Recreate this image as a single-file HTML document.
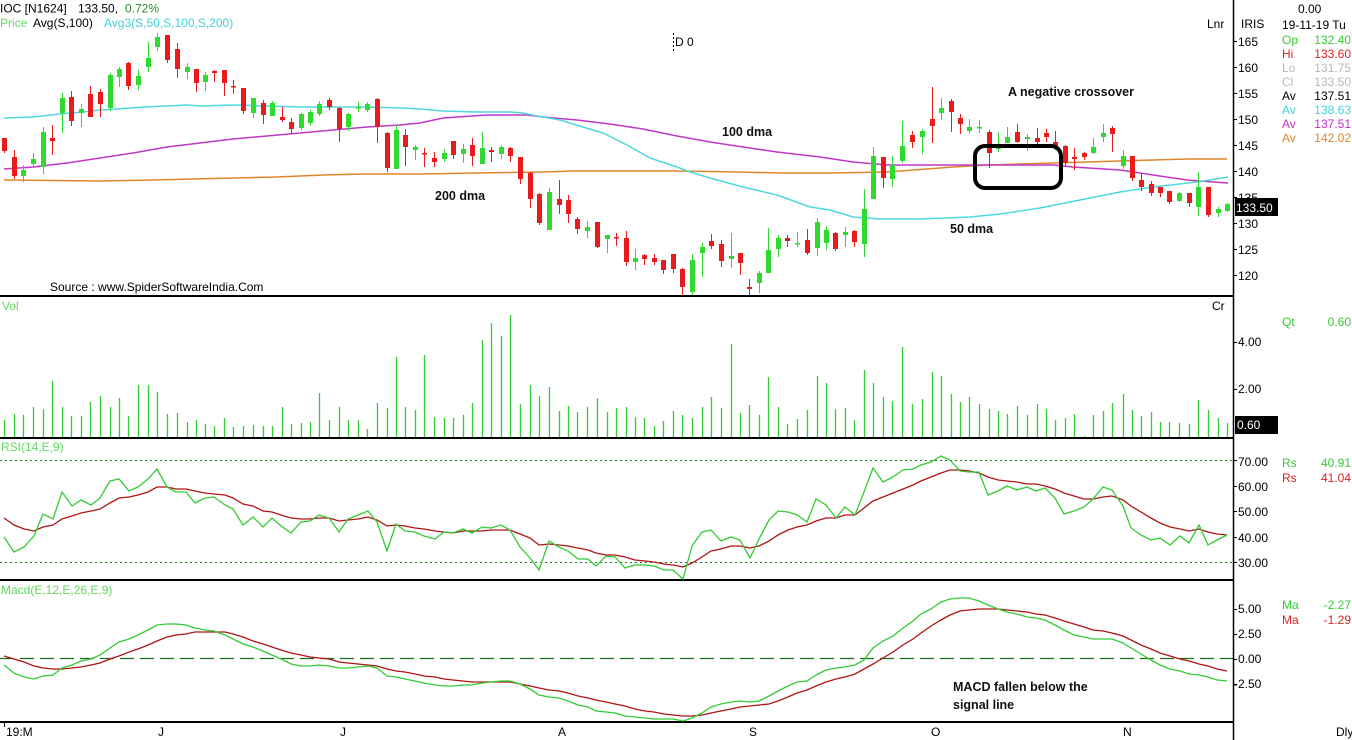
<!DOCTYPE html>
<html><head><meta charset="utf-8"><style>
html,body{margin:0;padding:0;background:#fff;}
svg{display:block;font-family:"Liberation Sans",sans-serif;font-size:12px;}
.b{font-weight:bold;font-size:12.5px;fill:#111;}
</style></head><body>
<svg width="1352" height="740" viewBox="0 0 1352 740" xmlns="http://www.w3.org/2000/svg">
<rect width="1352" height="740" fill="#fff"/>

<!-- header -->
<text x="0" y="12.5" fill="#000">IOC [N1624]</text>
<text x="78" y="12.5" fill="#000">133.50,</text>
<text x="125" y="12.5" fill="#2a8a2a">0.72%</text>
<text x="0" y="27" fill="#5fdc5f">Price</text>
<text x="33" y="27" fill="#000">Avg(S,100)</text>
<text x="104" y="27" fill="#44d0d8">Avg3(S,50,S,100,S,200)</text>

<!-- D 0 marker -->
<line x1="673.5" y1="33" x2="673.5" y2="52" stroke="#000" stroke-dasharray="2,2"/>
<text x="675" y="46" fill="#000">D 0</text>
<text x="1207" y="28" fill="#000">Lnr</text>

<!-- moving averages -->
<polyline fill="none" stroke="#e0862a" stroke-width="1.5" points="4,180 100,181 153,180 233,178 277,177 323,175 363,174 420,174 477,173 543,172 573,171 677,171 737,172 783,173 830,173 887,172 953,167 987,165 1053,163 1087,162 1153,160 1187,159 1227,159"/>
<polyline fill="none" stroke="#c038c8" stroke-width="1.5" points="4,169 33,167 67,163 100,158 133,153 167,147 200,143 233,139 267,136 300,133 333,130 367,127 400,125 420,123 443,118 487,115 527,115 543,117 577,120 610,124 643,129 677,136 710,142 743,147 777,152 820,157 853,162 887,165 920,165 953,165 987,165 1053,165 1073,167 1120,170 1153,175 1187,180 1213,182 1228,183"/>
<polyline fill="none" stroke="#4fd8e0" stroke-width="1.5" points="4,118 33,117 60,114 83,112 100,110 117,109 143,107 167,106 187,105 200,106 233,105 267,106 300,107 333,107 367,107 400,108 420,109 443,111 477,112 510,112 523,113 537,116 560,120 583,127 603,133 627,145 650,158 677,167 690,172 710,178 743,187 777,195 810,207 830,210 853,217 880,219 920,219 970,217 1000,214 1040,208 1080,200 1120,192 1153,187 1197,182 1228,177"/>

<!-- red candles -->
<g fill="#e81c1c">
<path stroke="#e81c1c" stroke-width="1" d="M4.5 138V153M14.5 150V179M52.5 125V155M71.5 91V126M90.5 86V117M100.5 89V117M128.5 62V90M167.5 35V63M177.5 43V78M196.5 69V92M214.5 70V82M224.5 70V96M233.5 80V94M243.5 88V114M263.5 100V124M282.5 107V122M291.5 118V134M329.5 98V110M339.5 107V142M377.5 98V143M387.5 132V172M405.5 129V166M424.5 148V167M434.5 152V167M453.5 141V159M472.5 138V166M491.5 147V162M510.5 147V162M520.5 157V184M530.5 172V208M539.5 193V225M559.5 180V214M568.5 195V223M577.5 217V234M597.5 222V248M616.5 233V246M626.5 231V266M644.5 254V265M654.5 254V265M663.5 260V274M673.5 254V273M682.5 268V295M711.5 234V249M721.5 240V267M740.5 253V275M749.5 279V295M787.5 235V247M807.5 229V255M835.5 232V251M854.5 230V247M883.5 157V188M912.5 131V148M932.5 87V143M951.5 99V132M960.5 114V134M989.5 130V168M1017.5 124V143M1037.5 128V144M1046.5 129V142M1055.5 131V150M1065.5 145V166M1074.5 148V170M1084.5 152V160M1112.5 126V152M1132.5 156V181M1141.5 174V191M1151.5 181V196M1160.5 187V197M1169.5 191V204M1189.5 193V207M1208.5 187V217"/>
<rect x="2" y="138" width="5" height="13"/><rect x="12" y="157" width="5" height="19"/><rect x="50" y="138" width="5" height="3"/><rect x="69" y="97" width="5" height="24"/><rect x="88" y="94" width="5" height="23"/><rect x="98" y="92" width="5" height="12"/><rect x="126" y="63" width="5" height="23"/><rect x="165" y="35" width="5" height="25"/><rect x="175" y="49" width="5" height="20"/><rect x="194" y="69" width="5" height="14"/><rect x="212" y="71" width="5" height="2"/><rect x="222" y="70" width="5" height="13"/><rect x="231" y="86" width="5" height="1.5"/><rect x="241" y="88" width="5" height="23"/><rect x="261" y="103" width="5" height="12"/><rect x="280" y="117" width="5" height="3"/><rect x="289" y="122" width="5" height="7"/><rect x="327" y="100" width="5" height="7"/><rect x="337" y="108" width="5" height="21"/><rect x="375" y="99" width="5" height="28"/><rect x="385" y="133" width="5" height="35"/><rect x="403" y="135" width="5" height="12"/><rect x="422" y="153" width="5" height="1.5"/><rect x="432" y="158" width="5" height="4"/><rect x="451" y="141" width="5" height="14"/><rect x="470" y="145" width="5" height="11"/><rect x="489" y="150" width="5" height="2"/><rect x="508" y="148" width="5" height="8"/><rect x="518" y="157" width="5" height="22"/><rect x="528" y="173" width="5" height="26"/><rect x="537" y="194" width="5" height="29"/><rect x="557" y="199" width="5" height="6"/><rect x="566" y="200" width="5" height="14"/><rect x="575" y="219" width="5" height="10"/><rect x="595" y="222" width="5" height="25"/><rect x="614" y="237" width="5" height="1.5"/><rect x="624" y="238" width="5" height="24"/><rect x="642" y="255" width="5" height="4"/><rect x="652" y="258" width="5" height="4"/><rect x="661" y="260" width="5" height="10"/><rect x="671" y="254" width="5" height="15"/><rect x="680" y="269" width="5" height="18"/><rect x="709" y="241" width="5" height="5"/><rect x="719" y="244" width="5" height="17"/><rect x="738" y="253" width="5" height="10"/><rect x="747" y="287" width="5" height="2"/><rect x="785" y="238" width="5" height="3"/><rect x="805" y="240" width="5" height="13"/><rect x="833" y="233" width="5" height="16"/><rect x="852" y="231" width="5" height="11"/><rect x="881" y="157" width="5" height="21"/><rect x="910" y="135" width="5" height="7"/><rect x="930" y="119" width="5" height="7"/><rect x="949" y="101" width="5" height="11"/><rect x="958" y="118" width="5" height="6"/><rect x="987" y="132" width="5" height="21"/><rect x="1015" y="132" width="5" height="10"/><rect x="1035" y="138" width="5" height="4"/><rect x="1044" y="133" width="5" height="4"/><rect x="1053" y="142" width="5" height="5"/><rect x="1063" y="146" width="5" height="17"/><rect x="1072" y="157" width="5" height="2"/><rect x="1082" y="153" width="5" height="4"/><rect x="1110" y="128" width="5" height="6"/><rect x="1130" y="156" width="5" height="22"/><rect x="1139" y="180" width="5" height="7"/><rect x="1149" y="184" width="5" height="9"/><rect x="1158" y="187" width="5" height="6"/><rect x="1167" y="191" width="5" height="11"/><rect x="1187" y="193" width="5" height="10"/><rect x="1206" y="187" width="5" height="28"/>
</g>

<!-- green candles -->
<g fill="#2edb2e">
<path stroke="#2edb2e" stroke-width="1" d="M23.5 165V182M33.5 153V168M43.5 127V174M62.5 93V133M81.5 104V127M110.5 73V111M119.5 67V87M138.5 70V90M148.5 42V72M157.5 33V51M187.5 63V79M205.5 72V91M253.5 98V118M272.5 101V116M301.5 113V130M310.5 110V125M319.5 101V116M348.5 113V131M358.5 102V112M367.5 102V112M396.5 125V169M415.5 145V160M444.5 149V162M463.5 144V163M482.5 132V164M501.5 145V159M549.5 188V230M587.5 221V238M607.5 235V253M635.5 249V270M692.5 254V295M702.5 243V277M731.5 233V268M759.5 271V293M768.5 228V273M778.5 235V257M797.5 232V247M817.5 218V256M826.5 226V250M845.5 227V247M864.5 189V257M873.5 147V199M892.5 156V187M902.5 121V163M922.5 129V154M941.5 98V120M969.5 119V133M979.5 120V133M998.5 132V152M1007.5 127V143M1027.5 134V151M1093.5 138V154M1103.5 124V142M1123.5 150V169M1179.5 192V202M1198.5 172V216M1218.5 207V217M1227.5 203V212"/>
<rect x="21" y="170" width="5" height="6"/><rect x="31" y="159" width="5" height="5"/><rect x="41" y="132" width="5" height="35"/><rect x="60" y="98" width="5" height="15"/><rect x="79" y="109" width="5" height="4"/><rect x="108" y="75" width="5" height="33"/><rect x="117" y="69" width="5" height="8"/><rect x="136" y="76" width="5" height="9"/><rect x="146" y="58" width="5" height="9"/><rect x="155" y="37" width="5" height="10"/><rect x="185" y="67" width="5" height="5"/><rect x="203" y="75" width="5" height="7"/><rect x="251" y="98" width="5" height="15"/><rect x="270" y="103" width="5" height="13"/><rect x="299" y="114" width="5" height="14"/><rect x="308" y="112" width="5" height="11"/><rect x="317" y="104" width="5" height="10"/><rect x="346" y="114" width="5" height="13"/><rect x="356" y="107" width="5" height="1.5"/><rect x="365" y="104" width="5" height="6"/><rect x="394" y="130" width="5" height="39"/><rect x="413" y="147" width="5" height="3"/><rect x="442" y="153" width="5" height="6"/><rect x="461" y="149" width="5" height="5"/><rect x="480" y="148" width="5" height="16"/><rect x="499" y="147" width="5" height="7"/><rect x="547" y="192" width="5" height="38"/><rect x="585" y="227" width="5" height="4"/><rect x="605" y="235" width="5" height="4"/><rect x="633" y="258" width="5" height="4"/><rect x="690" y="260" width="5" height="32"/><rect x="700" y="247" width="5" height="6"/><rect x="729" y="256" width="5" height="3"/><rect x="757" y="273" width="5" height="10"/><rect x="766" y="250" width="5" height="23"/><rect x="776" y="238" width="5" height="11"/><rect x="795" y="243" width="5" height="1.5"/><rect x="815" y="222" width="5" height="26"/><rect x="824" y="230" width="5" height="13"/><rect x="843" y="232" width="5" height="3"/><rect x="862" y="209" width="5" height="35"/><rect x="871" y="156" width="5" height="43"/><rect x="890" y="166" width="5" height="13"/><rect x="900" y="146" width="5" height="15"/><rect x="920" y="131" width="5" height="6"/><rect x="939" y="108" width="5" height="5"/><rect x="967" y="127" width="5" height="4"/><rect x="977" y="127" width="5" height="1.5"/><rect x="996" y="144" width="5" height="5"/><rect x="1005" y="137" width="5" height="6"/><rect x="1025" y="137" width="5" height="2"/><rect x="1091" y="147" width="5" height="6"/><rect x="1101" y="133" width="5" height="4"/><rect x="1121" y="156" width="5" height="10"/><rect x="1177" y="193" width="5" height="8"/><rect x="1196" y="187" width="5" height="20"/><rect x="1216" y="209" width="5" height="4"/><rect x="1225" y="204" width="5" height="7"/>
</g>

<!-- annotations -->
<rect x="975" y="146" width="86" height="42" rx="10" ry="10" fill="none" stroke="#000" stroke-width="4"/>
<text class="b" x="1008" y="96">A negative crossover</text>
<text class="b" x="722" y="136">100 dma</text>
<text class="b" x="435" y="200">200 dma</text>
<text class="b" x="950" y="233">50 dma</text>
<text x="50" y="291" fill="#000">Source : www.SpiderSoftwareIndia.Com</text>

<!-- panel separators -->
<g stroke="#000" stroke-width="2">
<line x1="0" y1="296" x2="1233" y2="296"/>
<line x1="0" y1="438" x2="1233" y2="438"/>
<line x1="0" y1="580" x2="1233" y2="580"/>
<line x1="0" y1="722" x2="1233" y2="722"/>
</g>
<line x1="1233.5" y1="0" x2="1233.5" y2="740" stroke="#000" stroke-width="1.5"/>

<!-- volume -->
<text x="2" y="310" fill="#5fdc5f">Vol</text>
<text x="1212" y="310" fill="#000">Cr</text>
<path stroke="#33cc33" stroke-width="1.3" fill="none" d="M4.5 437V420M14.5 437V414M23.5 437V415M33.5 437V407M43.5 437V409M52.5 437V381M62.5 437V407M71.5 437V416M81.5 437V416M90.5 437V402M100.5 437V396M110.5 437V407M119.5 437V398M128.5 437V416M138.5 437V385M148.5 437V385M157.5 437V392M167.5 437V414M177.5 437V413M187.5 437V422M196.5 437V420M205.5 437V424M214.5 437V426M224.5 437V418M233.5 437V427M243.5 437V426M253.5 437V425M263.5 437V426M272.5 437V426M282.5 437V407M291.5 437V424M301.5 437V423M310.5 437V422M319.5 437V393M329.5 437V420M339.5 437V407M348.5 437V420M358.5 437V420M367.5 437V429M377.5 437V403M387.5 437V408M396.5 437V357M405.5 437V407M415.5 437V410M424.5 437V355M434.5 437V417M444.5 437V418M453.5 437V418M463.5 437V415M472.5 437V403M482.5 437V340M491.5 437V323M501.5 437V336M510.5 437V315M520.5 437V404M530.5 437V385M539.5 437V396M549.5 437V387M559.5 437V411M568.5 437V406M577.5 437V412M587.5 437V407M597.5 437V398M607.5 437V412M616.5 437V408M626.5 437V407M635.5 437V417M644.5 437V418M654.5 437V426M663.5 437V421M673.5 437V411M682.5 437V415M692.5 437V418M702.5 437V407M711.5 437V397M721.5 437V408M731.5 437V344M740.5 437V413M749.5 437V405M759.5 437V415M768.5 437V377M778.5 437V407M787.5 437V424M797.5 437V419M807.5 437V410M817.5 437V376M826.5 437V383M835.5 437V409M845.5 437V408M854.5 437V420M864.5 437V370M873.5 437V383M883.5 437V397M892.5 437V401M902.5 437V347M912.5 437V404M922.5 437V399M932.5 437V372M941.5 437V376M951.5 437V394M960.5 437V402M969.5 437V397M979.5 437V404M989.5 437V409M998.5 437V411M1007.5 437V414M1017.5 437V406M1027.5 437V415M1037.5 437V404M1046.5 437V409M1055.5 437V420M1065.5 437V418M1074.5 437V414M1084.5 437V436M1093.5 437V415M1103.5 437V411M1112.5 437V403M1123.5 437V394M1132.5 437V410M1141.5 437V416M1151.5 437V412M1160.5 437V422M1169.5 437V422M1179.5 437V423M1189.5 437V424M1198.5 437V400M1208.5 437V410M1218.5 437V418M1227.5 437V423"/>

<!-- RSI -->
<text x="1" y="451" fill="#5fdc5f">RSI(14,E,9)</text>
<g stroke="#1f7a1f" stroke-width="1" stroke-dasharray="2,3">
<line x1="0" y1="460.5" x2="1233" y2="460.5"/>
<line x1="0" y1="562.5" x2="1233" y2="562.5"/>
</g>
<polyline fill="none" stroke="#b01414" stroke-width="1.3" points="4,518 14,525 24,529 34,531 43,527 53,525 62,519 72,516 81,513 91,511 100,509 110,503 119,498 129,497 138,495 148,492 157,487 167,487 176,489 186,489 195,491 205,493 214,494 225,495 233,498 243,504 253,506 263,511 272,512 281,515 291,518 301,519 310,519 319,518 329,518 339,521 348,520 358,519 368,517 377,520 387,526 396,525 405,526 415,528 424,529 435,531 444,532 453,533 463,531 472,531 482,531 491,530 501,530 510,530 520,534 530,538 539,545 549,544 559,545 568,546 578,548 588,550 596,553 606,555 615,555 625,557 635,560 645,561 654,562 664,564 673,565 683,567 692,563 702,557 711,551 721,549 731,546 740,546 750,548 759,546 769,541 778,535 788,530 797,527 807,525 816,521 826,518 836,518 845,515 855,515 864,508 873,501 883,497 893,493 903,489 913,485 921,481 931,477 941,473 950,470 960,470 969,471 979,473 988,477 998,480 1007,481 1017,482 1027,484 1036,484 1045,486 1055,489 1064,493 1074,496 1084,499 1093,499 1103,497 1112,496 1123,500 1131,506 1141,512 1151,518 1160,523 1170,527 1180,529 1189,531 1199,529 1208,532 1217,534 1227,535"/>
<polyline fill="none" stroke="#33cc33" stroke-width="1.3" points="4,537 14,552 24,547 34,536 43,514 53,519 62,492 72,506 81,500 91,505 100,498 110,481 119,479 129,491 138,487 148,479 157,469 167,487 176,492 186,492 195,503 205,498 214,497 225,505 233,509 243,525 253,517 263,527 272,518 281,526 291,533 301,522 310,521 319,515 329,518 339,532 348,519 358,515 368,511 377,522 387,551 396,524 405,531 415,532 424,536 435,539 444,532 453,533 463,529 472,533 482,527 491,528 501,525 510,530 520,547 530,558 539,570 549,541 559,547 568,551 578,559 588,559 596,566 606,556 615,557 625,568 635,565 645,565 654,566 664,570 673,570 683,579 692,546 702,532 711,530 721,541 731,537 740,540 750,558 759,539 769,520 778,511 788,512 797,515 807,522 816,499 826,505 836,518 845,507 855,515 864,492 873,468 883,482 893,477 903,470 913,469 921,465 931,462 941,456 950,460 960,471 969,472 979,472 988,495 998,491 1007,486 1017,490 1027,487 1036,491 1045,488 1055,498 1064,514 1074,511 1084,507 1093,499 1103,487 1112,490 1123,506 1131,528 1141,535 1151,540 1160,538 1170,545 1180,536 1189,543 1199,525 1208,545 1217,540 1227,535"/>

<!-- MACD -->
<text x="1" y="594" fill="#5fdc5f">Macd(E,12,E,26,E,9)</text>
<line x1="0" y1="658.5" x2="1233" y2="658.5" stroke="#1a6e1a" stroke-width="1.3" stroke-dasharray="14,6"/>
<polyline fill="none" stroke="#b01414" stroke-width="1.3" points="4,656 14,659 24,662 34,666 43,668 53,669 62,669 72,668 81,667 91,665 100,663 110,659 119,656 129,652 138,649 148,645 157,641 167,637 176,635 186,634 195,632 205,632 214,632 225,632 233,634 243,637 253,641 263,644 272,647 281,650 291,653 301,655 310,657 319,658 329,659 339,662 348,663 358,664 368,665 377,666 387,669 396,671 405,672 415,674 424,676 435,677 444,679 453,680 463,681 472,682 482,682 491,682 501,682 510,682 520,684 530,686 539,688 549,690 559,691 568,693 578,696 588,698 596,700 606,702 615,704 625,706 635,709 645,711 654,712 664,714 673,715 683,716 692,716 702,715 711,713 721,711 731,709 740,707 750,706 759,705 769,704 778,701 788,697 797,693 807,690 816,686 826,682 836,679 845,677 855,674 864,669 873,664 883,658 893,652 903,645 913,639 921,633 931,626 941,620 950,615 960,611 969,610 979,609 988,609 998,609 1007,610 1017,611 1027,612 1036,614 1045,615 1055,618 1064,621 1074,624 1084,627 1093,630 1103,631 1112,633 1123,636 1131,640 1141,645 1151,649 1160,653 1170,656 1180,659 1189,661 1199,664 1208,666 1217,669 1227,671"/>
<polyline fill="none" stroke="#33cc33" stroke-width="1.3" points="4,665 14,673 24,677 34,679 43,676 53,675 62,668 72,665 81,661 91,659 100,655 110,648 119,642 129,639 138,635 148,630 157,625 167,624 176,624 186,625 195,628 205,630 214,631 225,635 233,639 243,644 253,647 263,651 272,655 281,659 291,664 301,666 310,666 319,665 329,666 339,668 348,668 358,667 368,666 377,668 387,676 396,677 405,679 415,681 424,683 435,685 444,686 453,686 463,685 472,685 482,683 491,682 501,681 510,681 520,684 530,689 539,695 549,697 559,698 568,701 578,705 588,707 596,711 606,712 615,713 625,716 635,717 645,718 654,719 664,719 673,719 683,721 692,718 702,713 711,707 721,704 731,702 740,701 750,702 759,701 769,696 778,691 788,686 797,682 807,681 816,675 826,670 836,668 845,667 855,665 864,660 873,648 883,641 893,636 903,628 913,621 921,614 931,609 941,602 950,599 960,598 969,598 979,601 988,605 998,609 1007,612 1017,614 1027,617 1036,618 1045,620 1055,625 1064,630 1074,635 1084,637 1093,639 1103,639 1112,639 1123,643 1131,648 1141,654 1151,660 1160,665 1170,669 1180,671 1189,674 1199,675 1208,677 1217,680 1227,681"/>
<text class="b" x="953" y="691">MACD fallen below the</text>
<text class="b" x="953" y="709">signal line</text>

<!-- x axis -->
<line x1="4.5" y1="723" x2="4.5" y2="727" stroke="#000"/>
<g fill="#000">
<text x="6" y="736">19:M</text>
<text x="158" y="736">J</text>
<text x="340" y="736">J</text>
<text x="558" y="736">A</text>
<text x="749" y="736">S</text>
<text x="931" y="736">O</text>
<text x="1123" y="736">N</text>
<text x="1336" y="736">Dly</text>
</g>

<!-- y axis ticks -->
<path stroke="#000" stroke-width="1" d="M1233 41.5H1237M1233 67.5H1237M1233 93.5H1237M1233 119.5H1237M1233 145.5H1237M1233 171.5H1237M1233 197.5H1237M1233 223.5H1237M1233 249.5H1237M1233 275.5H1237M1233 342.5H1237M1233 389.5H1237M1233 460.5H1237M1233 486.5H1237M1233 511.5H1237M1233 537.5H1237M1233 562.5H1237M1233 609.5H1237M1233 634.5H1237M1233 659.5H1237M1233 684.5H1237"/>
<g fill="#000">
<text x="1238" y="46">165</text>
<text x="1238" y="72">160</text>
<text x="1238" y="98">155</text>
<text x="1238" y="124">150</text>
<text x="1238" y="150">145</text>
<text x="1238" y="176">140</text>
<text x="1238" y="202">135</text>
<text x="1238" y="228">130</text>
<text x="1238" y="254">125</text>
<text x="1238" y="280">120</text>
<text x="1238" y="346">4.00</text>
<text x="1238" y="393">2.00</text>
<text x="1238" y="466">70.00</text>
<text x="1238" y="491">60.00</text>
<text x="1238" y="516">50.00</text>
<text x="1238" y="542">40.00</text>
<text x="1238" y="567">30.00</text>
<text x="1238" y="613">5.00</text>
<text x="1238" y="638">2.50</text>
<text x="1238" y="663">0.00</text>
<text x="1234" y="688">-2.50</text>
</g>
<rect x="1235" y="198" width="43" height="18" fill="#000"/>
<text x="1236" y="212" fill="#fff">133.50</text>
<rect x="1235" y="416" width="43" height="18" fill="#000"/>
<text x="1237" y="429" fill="#fff">0.60</text>

<!-- right info panel -->
<text x="1241" y="28" fill="#000">IRIS</text>
<text x="1298" y="13" fill="#000">0.00</text>
<text x="1282" y="29" fill="#000">19-11-19 Tu</text>
<g>
<text x="1282" y="44" fill="#33cc33">Op</text><text x="1351" y="44" text-anchor="end" fill="#33cc33">132.40</text>
<text x="1282" y="58" fill="#dd2222">Hi</text><text x="1351" y="58" text-anchor="end" fill="#dd2222">133.60</text>
<text x="1282" y="72" fill="#b8b8b8">Lo</text><text x="1351" y="72" text-anchor="end" fill="#b8b8b8">131.75</text>
<text x="1282" y="86" fill="#b8b8b8">Cl</text><text x="1351" y="86" text-anchor="end" fill="#b8b8b8">133.50</text>
<text x="1282" y="100" fill="#000">Av</text><text x="1351" y="100" text-anchor="end" fill="#000">137.51</text>
<text x="1282" y="114" fill="#3fd0d8">Av</text><text x="1351" y="114" text-anchor="end" fill="#3fd0d8">138.63</text>
<text x="1282" y="128" fill="#c030c8">Av</text><text x="1351" y="128" text-anchor="end" fill="#c030c8">137.51</text>
<text x="1282" y="142" fill="#e0862a">Av</text><text x="1351" y="142" text-anchor="end" fill="#e0862a">142.02</text>
<text x="1282" y="326" fill="#33cc33">Qt</text><text x="1351" y="326" text-anchor="end" fill="#33cc33">0.60</text>
<text x="1282" y="467" fill="#33cc33">Rs</text><text x="1351" y="467" text-anchor="end" fill="#33cc33">40.91</text>
<text x="1282" y="482" fill="#dd2222">Rs</text><text x="1351" y="482" text-anchor="end" fill="#dd2222">41.04</text>
<text x="1282" y="609" fill="#33cc33">Ma</text><text x="1351" y="609" text-anchor="end" fill="#33cc33">-2.27</text>
<text x="1282" y="624" fill="#dd2222">Ma</text><text x="1351" y="624" text-anchor="end" fill="#dd2222">-1.29</text>
</g>
</svg>
</body></html>
